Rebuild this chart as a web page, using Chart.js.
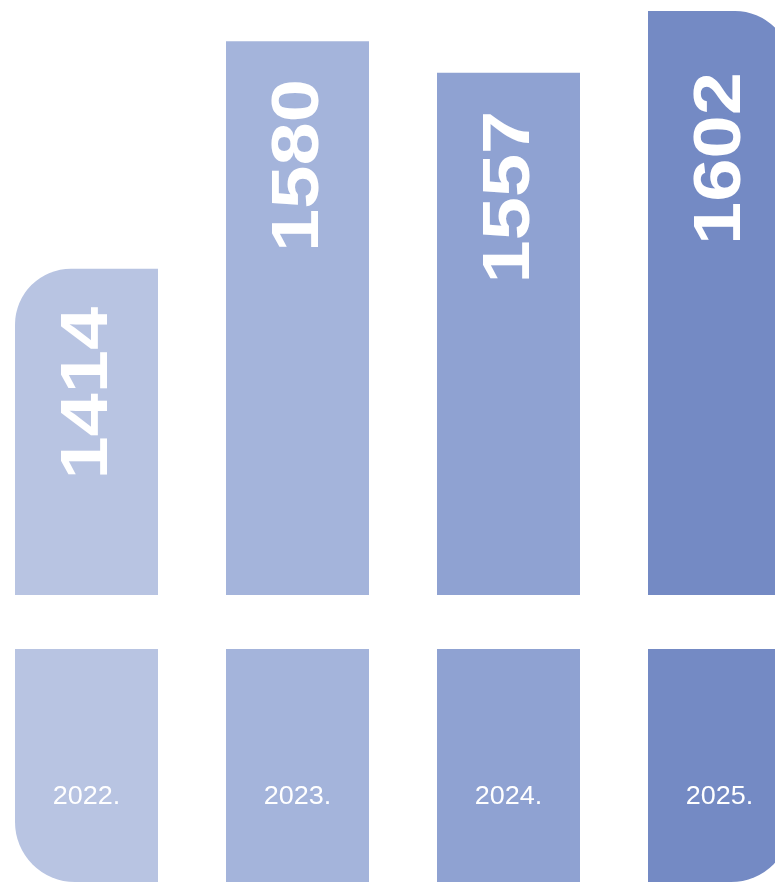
<!DOCTYPE html>
<html>
<head>
<meta charset="utf-8">
<script src="https://cdn.jsdelivr.net/npm/chart.js@4"></script>
<style>
    html, body {margin: 0; padding: 0; background: #fff; overflow: hidden; width: 775px; height: 882px;}
    #top_wrap {position: absolute; left: -19px; top: 0; width: 844px; height: 595px;}
    #bottom_wrap {position: absolute; left: -19px; top: 649px; width: 844px; height: 233px;}
</style>
</head>
<body>
<div id="top_wrap"><canvas id="value_chart"></canvas></div>
<div id="bottom_wrap"><canvas id="year_chart"></canvas></div>
<script>
let years = ['2022.', '2023.', '2024.', '2025.'];
let values = [1414, 1580, 1557, 1602];
let colors = ['#b8c4e2', '#a4b4db', '#8fa2d2', '#748ac4'];

// rotated numbers near the top of each bar (the font is drawn a bit stretched, like the original)
let valueLabels = {
    id: 'valueLabels',
    afterDatasetsDraw: function(chart) {
        let ctx = chart.ctx;
        let meta = chart.getDatasetMeta(0);
        ctx.save();
        ctx.fillStyle = '#ffffff';
        ctx.font = 'bold 67px "Liberation Sans", Arial, sans-serif';
        ctx.textAlign = 'right';
        ctx.textBaseline = 'middle';
        meta.data.forEach(function(bar, i) {
            let y = Math.max(bar.y + 38, 72);
            ctx.save();
            ctx.translate(bar.x, y);
            ctx.rotate(-Math.PI / 2);
            ctx.scale(1.16, 1);
            ctx.fillText(String(values[i]), 0, 2);
            ctx.restore();
        });
        ctx.restore();
    }
};

let yearLabels = {
    id: 'yearLabels',
    afterDatasetsDraw: function(chart) {
        let ctx = chart.ctx;
        let meta = chart.getDatasetMeta(0);
        ctx.save();
        ctx.fillStyle = '#ffffff';
        ctx.font = '25px "Liberation Sans", Arial, sans-serif';
        ctx.textAlign = 'center';
        ctx.textBaseline = 'middle';
        meta.data.forEach(function(bar, i) {
            ctx.save();
            ctx.translate(bar.x, 148);
            ctx.scale(1.08, 1);
            ctx.fillText(years[i], 0, 0);
            ctx.restore();
        });
        ctx.restore();
    }
};

let valueChart = new Chart(document.getElementById('value_chart'), {
    type: 'bar',
    data: {
        labels: years,
        datasets: [
            {
                label: 'Value',
                data: values,
                backgroundColor: colors,
                borderWidth: 0,
                borderSkipped: false,
                borderRadius: function(c) {
                    if (c.dataIndex === 0) return {topLeft: 56, topRight: 0, bottomLeft: 0, bottomRight: 0};
                    if (c.dataIndex === values.length - 1) return {topLeft: 0, topRight: 56, bottomLeft: 0, bottomRight: 0};
                    return 0;
                },
                barPercentage: 143 / 211,
                categoryPercentage: 1
            }
        ]
    },
    options: {
        responsive: true,
        maintainAspectRatio: false,
        animation: false,
        layout: {padding: 0},
        plugins: {legend: {display: false}, tooltip: {enabled: false}},
        scales: {
            x: {display: false},
            y: {display: false, min: 1176, max: 1610}
        }
    },
    plugins: [valueLabels]
});

let yearChart = new Chart(document.getElementById('year_chart'), {
    type: 'bar',
    data: {
        labels: years,
        datasets: [
            {
                label: 'Year',
                data: years.map(function() {return 1;}),
                backgroundColor: colors,
                borderWidth: 0,
                borderSkipped: false,
                borderRadius: function(c) {
                    if (c.dataIndex === 0) return {topLeft: 0, topRight: 0, bottomLeft: 60, bottomRight: 0};
                    if (c.dataIndex === years.length - 1) return {topLeft: 0, topRight: 0, bottomLeft: 0, bottomRight: 60};
                    return 0;
                },
                barPercentage: 143 / 211,
                categoryPercentage: 1
            }
        ]
    },
    options: {
        responsive: true,
        maintainAspectRatio: false,
        animation: false,
        layout: {padding: 0},
        plugins: {legend: {display: false}, tooltip: {enabled: false}},
        scales: {
            x: {display: false},
            y: {display: false, min: 0, max: 1}
        }
    },
    plugins: [yearLabels]
});
</script>
</body>
</html>
